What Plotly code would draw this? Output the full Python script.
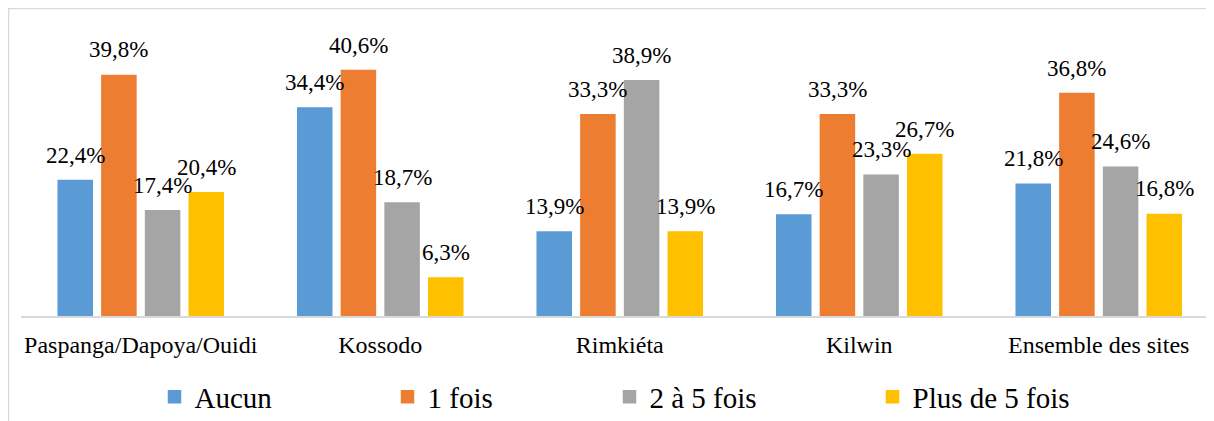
import plotly.graph_objects as go

categories = ["Paspanga/Dapoya/Ouidi", "Kossodo", "Rimkiéta", "Kilwin", "Ensemble des sites"]
series_names = ["Aucun", "1 fois", "2 à 5 fois", "Plus de 5 fois"]
aucun = [22.4, 34.4, 13.9, 16.7, 21.8]
une_fois = [39.8, 40.6, 33.3, 33.3, 36.8]
deux_a_cinq = [17.4, 18.7, 38.9, 23.3, 24.6]
plus_de_cinq = [20.4, 6.3, 13.9, 26.7, 16.8]
colors = ["#5B9BD5", "#ED7D31", "#A5A5A5", "#FFC000"]

series_values = [aucun, une_fois, deux_a_cinq, plus_de_cinq]

# page body has an 8px margin: layout pixel = screen pixel - 8
OFF = 8
W, H = 1214, 421
ML, MR, MT, MB = 21 - OFF, 0, 44 - OFF, H - (316 - OFF)
PW = W - ML - MR
PH = H - MT - MB
CAT_PX = 239.5
BARGAP = 0.2706
GROUPGAP = 0.221
FONT = "Liberation Serif"

fig = go.Figure()
legend_keys = ["legend", "legend2", "legend3", "legend4"]
for i, (name, vals) in enumerate(zip(series_names, series_values)):
    fig.add_trace(go.Bar(
        x=categories, y=vals, name=name,
        marker=dict(color=colors[i], line=dict(color=colors[i], width=1.5)),
        legend=legend_keys[i],
    ))

slot = CAT_PX * (1 - BARGAP) / 4
annotations = []
for i, vals in enumerate(series_values):
    for c, v in zip(categories, vals):
        annotations.append(dict(
            x=c, y=v, xref="x", yref="y",
            text=f"{v:.1f}".replace(".", ",") + "%",
            showarrow=False, yanchor="bottom", xanchor="center",
            xshift=(i - 1.5) * slot, yshift=11,
            font=dict(family=FONT, size=23, color="#000000"),
        ))

def px_x(p):
    return (p - OFF - ML) / PW

def px_y(p):
    return (H - MB - (p - OFF)) / PH

legend_centers = [176.5, 409.5, 631.5, 894.5]
legend_layout = {}
for key, c in zip(legend_keys, legend_centers):
    legend_layout[key] = dict(
        x=px_x(c - 22), xanchor="left", y=px_y(397), yanchor="middle",
        orientation="h", bgcolor="rgba(0,0,0,0)",
        font=dict(family=FONT, size=29, color="#000000"),
    )

fig.update_layout(
    width=W, height=H,
    font=dict(family=FONT, color="#000000"),
    margin=dict(l=ML, r=MR, t=MT, b=MB, pad=0),
    paper_bgcolor="#FFFFFF", plot_bgcolor="#FFFFFF",
    barmode="group", bargap=BARGAP, bargroupgap=GROUPGAP,
    showlegend=True,
    annotations=annotations,
    shapes=[dict(type="rect", xref="paper", yref="paper",
                 x0=px_x(8.5), x1=px_x(1240), y0=px_y(8.5), y1=px_y(460),
                 line=dict(color="#D9D9D9", width=1.5), fillcolor="rgba(0,0,0,0)",
                 layer="above")],
    **legend_layout,
)
fig.update_xaxes(
    range=[-0.5, -0.5 + PW / CAT_PX],
    showline=True, linecolor="#D9D9D9", linewidth=1.5,
    showgrid=False, zeroline=False, ticks="outside", ticklen=6, tickcolor="rgba(0,0,0,0)",
    tickfont=dict(family=FONT, size=24, color="#000000"),
)
fig.update_yaxes(range=[0, 45], visible=False, showgrid=False, zeroline=False)

fig.write_html("out.html")
